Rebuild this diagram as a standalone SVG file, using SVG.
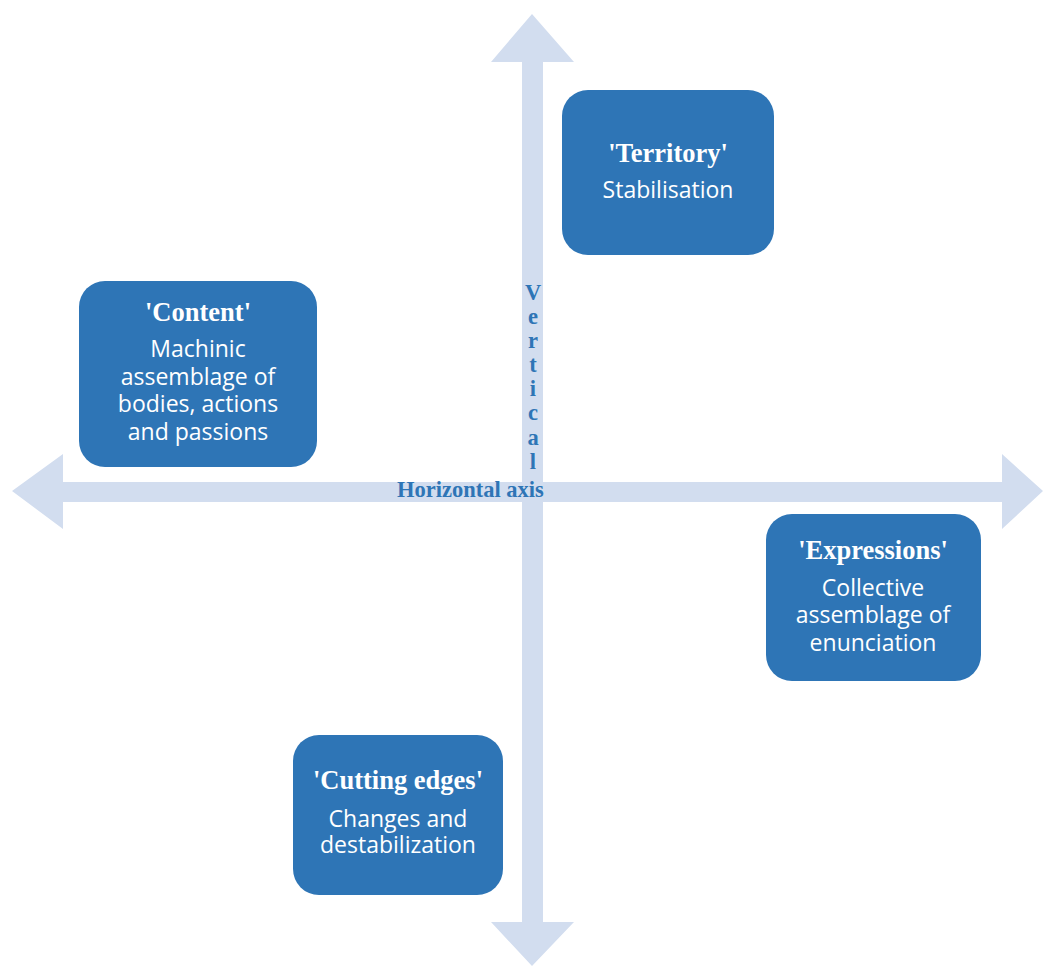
<svg xmlns="http://www.w3.org/2000/svg" width="1043" height="967" viewBox="0 0 1043 967">
<style>
.axis{fill:#D2DDEF}
.box{fill:#2E75B6}
.t{font-family:"Liberation Serif",serif;font-weight:bold;font-size:26.5px;fill:#fff;text-anchor:middle}
.b{font-family:"Open Sans",sans-serif;font-size:23px;fill:#fff;text-anchor:middle}
.ax{font-family:"Liberation Serif",serif;font-weight:bold;font-size:22.5px;fill:#2E75B6}
</style>
<rect width="1043" height="967" fill="#fff"/>
<g id="connectors">
<polygon class="axis" points="12,491 63,454 63,482 1002,482 1002,454 1043,491 1002,529 1002,502 63,502 63,529"/>
<polygon class="axis" points="532,14 574,62 543,62 543,922 574,922 532,966 491,922 522,922 522,62 491,62"/>
</g>
<g id="vertical-label">
<text class="ax" text-anchor="middle" x="533" y="300">V</text>
<text class="ax" text-anchor="middle" x="533" y="324">e</text>
<text class="ax" text-anchor="middle" x="533" y="348">r</text>
<text class="ax" text-anchor="middle" x="533" y="372">t</text>
<text class="ax" text-anchor="middle" x="533" y="396">i</text>
<text class="ax" text-anchor="middle" x="533" y="420">c</text>
<text class="ax" text-anchor="middle" x="533" y="445">a</text>
<text class="ax" text-anchor="middle" x="533" y="469">l</text>
</g>
<g id="horizontal-label">
<text class="ax" x="397" y="497">Horizontal axis</text>
</g>
<g id="territory">
<rect class="box" x="562" y="90" width="212" height="165" rx="26"/>
<text class="t" x="668" y="162">'Territory'</text>
<text class="b" x="668" y="198">Stabilisation</text>
</g>
<g id="content">
<rect class="box" x="79" y="281" width="238" height="186" rx="26"/>
<text class="t" x="198" y="321">'Content'</text>
<text class="b" x="198" y="357">Machinic</text>
<text class="b" x="198" y="385">assemblage of</text>
<text class="b" x="198" y="412">bodies, actions</text>
<text class="b" x="198" y="440">and passions</text>
</g>
<g id="expressions">
<rect class="box" x="766" y="514" width="215" height="167" rx="26"/>
<text class="t" x="873" y="559">'Expressions'</text>
<text class="b" x="873" y="596">Collective</text>
<text class="b" x="873" y="623">assemblage of</text>
<text class="b" x="873" y="651">enunciation</text>
</g>
<g id="cutting-edges">
<rect class="box" x="293" y="735" width="210" height="160" rx="26"/>
<text class="t" x="398" y="789">'Cutting edges'</text>
<text class="b" x="398" y="827">Changes and</text>
<text class="b" x="398" y="853">destabilization</text>
</g>
</svg>
